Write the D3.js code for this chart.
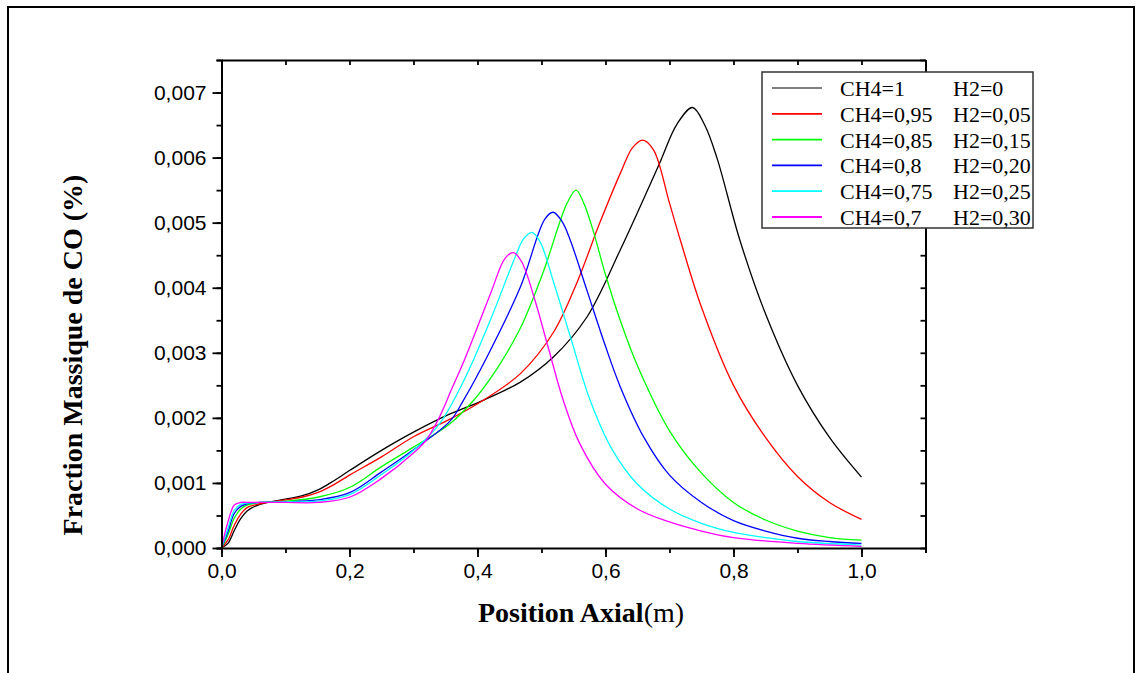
<!DOCTYPE html>
<html>
<head>
<meta charset="utf-8">
<script src="https://cdnjs.cloudflare.com/ajax/libs/d3/7.8.5/d3.min.js"></script>
<style>
  body { margin: 0; background: #fff; }
  svg { display: block; }
</style>
</head>
<body>
<div id="chart"></div>
<script>
// legend text, two columns
const labelsCH4 = ["CH4=1", "CH4=0,95", "CH4=0,85", "CH4=0,8", "CH4=0,75", "CH4=0,7"];
const labelsH2 = ["H2=0", "H2=0,05", "H2=0,15", "H2=0,20", "H2=0,25", "H2=0,30"];
const colors = ["#000000", "#ff0000", "#00ff00", "#0000ff", "#00ffff", "#ff00ff"];

// tick labels
const xTicks = [0, 0.2, 0.4, 0.6, 0.8, 1.0];
const yTicks = [0, 0.001, 0.002, 0.003, 0.004, 0.005, 0.006, 0.007];

// [position axiale (m), fraction massique CO]
const ch4_100 = [[0,0],[0.01,0.00007],[0.02,0.00027],[0.03,0.00045],[0.04,0.00057],[0.06,0.00067],[0.1,0.00075],[0.125,0.0008],[0.15,0.00089],[0.175,0.00103],[0.2,0.00119],[0.25,0.0015],[0.3,0.00178],[0.357,0.00206],[0.409,0.00227],[0.467,0.00255],[0.519,0.00294],[0.571,0.00355],[0.623,0.00458],[0.683,0.00588],[0.712,0.00652],[0.736,0.00677],[0.755,0.0065],[0.774,0.006],[0.81,0.00473],[0.85,0.0036],[0.9,0.0025],[0.95,0.0017],[1.0,0.00109]];
const ch4_095 = [[0,0],[0.01,0.00012],[0.02,0.00035],[0.03,0.00052],[0.04,0.00062],[0.06,0.00068],[0.1,0.00074],[0.125,0.00078],[0.15,0.00085],[0.175,0.00097],[0.2,0.00112],[0.25,0.0014],[0.3,0.00171],[0.357,0.00198],[0.409,0.00227],[0.467,0.00268],[0.519,0.00332],[0.555,0.00407],[0.592,0.00502],[0.625,0.0058],[0.642,0.00615],[0.658,0.00627],[0.675,0.00612],[0.7,0.0053],[0.717,0.00473],[0.75,0.0037],[0.8,0.0025],[0.85,0.0017],[0.9,0.0011],[0.95,0.0007],[1.0,0.00044]];
const ch4_085 = [[0,0],[0.01,0.0002],[0.02,0.00046],[0.03,0.0006],[0.04,0.00066],[0.06,0.0007],[0.1,0.00072],[0.15,0.00078],[0.2,0.00093],[0.25,0.00125],[0.3,0.00155],[0.357,0.00191],[0.394,0.00227],[0.43,0.00275],[0.467,0.00338],[0.503,0.00425],[0.54,0.0053],[0.554,0.0055],[0.566,0.0053],[0.58,0.0049],[0.6,0.0042],[0.623,0.0035],[0.65,0.0028],[0.7,0.0018],[0.75,0.00115],[0.8,0.0007],[0.85,0.00043],[0.9,0.00026],[0.95,0.00016],[1.0,0.00012]];
const ch4_080 = [[0,0],[0.01,0.00025],[0.02,0.00053],[0.03,0.00064],[0.04,0.00068],[0.06,0.0007],[0.1,0.00071],[0.15,0.00074],[0.2,0.00085],[0.25,0.00117],[0.3,0.00151],[0.357,0.00195],[0.378,0.00227],[0.415,0.00294],[0.467,0.00401],[0.505,0.00505],[0.518,0.00516],[0.532,0.00502],[0.545,0.00473],[0.571,0.00396],[0.6,0.0031],[0.623,0.00248],[0.66,0.0017],[0.7,0.00112],[0.75,0.0007],[0.8,0.00042],[0.85,0.00026],[0.9,0.00015],[0.95,0.0001],[1.0,0.00007]];
const ch4_075 = [[0,0],[0.01,0.0003],[0.02,0.00058],[0.03,0.00067],[0.04,0.00069],[0.06,0.0007],[0.1,0.00071],[0.15,0.00072],[0.2,0.00082],[0.25,0.00113],[0.3,0.0015],[0.34,0.0019],[0.38,0.0026],[0.42,0.0035],[0.46,0.0045],[0.472,0.00475],[0.485,0.00485],[0.498,0.0047],[0.52,0.00405],[0.545,0.00325],[0.576,0.00227],[0.61,0.00152],[0.65,0.00098],[0.7,0.0006],[0.75,0.00038],[0.8,0.00024],[0.85,0.00016],[0.9,0.0001],[1.0,0.000045]];
const ch4_070 = [[0,0],[0.01,0.0004],[0.02,0.00066],[0.03,0.0007],[0.045,0.0007],[0.1,0.0007],[0.15,0.0007],[0.2,0.00078],[0.25,0.00107],[0.3,0.00146],[0.32,0.00166],[0.34,0.002],[0.36,0.00245],[0.38,0.0029],[0.42,0.0039],[0.443,0.00445],[0.456,0.00454],[0.469,0.0044],[0.49,0.0038],[0.51,0.0031],[0.534,0.00227],[0.56,0.0016],[0.6,0.00098],[0.65,0.0006],[0.7,0.0004],[0.75,0.00026],[0.8,0.00016],[0.9,0.00007],[1.0,0.000025]];

const series = [ch4_100, ch4_095, ch4_085, ch4_080, ch4_075, ch4_070];

var width = 1138;
var height = 673;
var margin = { left: 221.5, right: 1138 - 925.5, top: 60, bottom: 673 - 548 };

var svg = d3.select("#chart")
    .append("svg")
    .attr("width", width)
    .attr("height", height);

// outer frame of the figure
svg.append("rect")
    .attr("x", 8).attr("y", 7)
    .attr("width", 1126).attr("height", 700)
    .attr("fill", "none")
    .attr("stroke", "#000")
    .attr("stroke-width", 2);

var x = d3.scaleLinear().domain([0, 1.1]).range([margin.left, width - margin.right]);
var y = d3.scaleLinear().domain([0, 0.0075]).range([height - margin.bottom, margin.top]);

var comma = d => d3.format(".1f")(d).replace(".", ",");
var commaY = d => d3.format(".3f")(d).replace(".", ",");

var plot = svg.append("g");

// curves
var line = d3.line()
    .x(d => x(d[0]))
    .y(d => y(d[1]))
    .curve(d3.curveCatmullRom.alpha(0.5));

plot.selectAll(".serie")
    .data(series)
    .enter()
    .append("path")
    .attr("class", "serie")
    .attr("d", line)
    .attr("fill", "none")
    .attr("stroke", (d, i) => colors[i])
    .attr("stroke-width", 1.3);

// axes: major + minor ticks
var fontTicks = "'Liberation Sans', Arial, sans-serif";

function styleAxis(g) {
    g.select(".domain").attr("stroke-width", 2);
    g.selectAll(".tick line").attr("stroke-width", 1.8);
    g.selectAll("text").attr("font-family", fontTicks).attr("font-size", 21).attr("fill", "#000");
}

var xMinor = d3.range(0, 11).map(i => i / 10).concat([1.1]);
var yMinor = d3.range(0, 16).map(i => i * 0.0005);

svg.append("g")
    .attr("transform", `translate(0,${y(0)})`)
    .call(d3.axisBottom(x).tickValues(xMinor).tickSize(5).tickFormat(""))
    .call(styleAxis);

svg.append("g")
    .attr("transform", `translate(0,${y(0)})`)
    .call(d3.axisBottom(x).tickValues(xTicks).tickSize(9).tickPadding(6).tickFormat(comma))
    .call(styleAxis)
    .call(g => g.select(".domain").remove());

svg.append("g")
    .attr("transform", `translate(${x(0)},0)`)
    .call(d3.axisLeft(y).tickValues(yMinor).tickSize(5).tickFormat(""))
    .call(styleAxis);

svg.append("g")
    .attr("transform", `translate(${x(0)},0)`)
    .call(d3.axisLeft(y).tickValues(yTicks).tickSize(9).tickPadding(6).tickFormat(commaY))
    .call(styleAxis)
    .call(g => g.select(".domain").remove());

// top and right, ticks inward, no labels
svg.append("g")
    .attr("transform", `translate(0,${y(0.0075)})`)
    .call(d3.axisTop(x).tickValues(xMinor).tickSize(-5).tickSizeOuter(0).tickFormat(""))
    .call(styleAxis);

svg.append("g")
    .attr("transform", `translate(${x(1.1)},0)`)
    .call(d3.axisRight(y).tickValues(yMinor).tickSize(-5).tickSizeOuter(0).tickFormat(""))
    .call(styleAxis);

// axis titles
var fontTitle = "'Liberation Serif', 'Times New Roman', serif";

var xTitle = svg.append("text")
    .attr("x", 581)
    .attr("y", 622)
    .attr("text-anchor", "middle")
    .attr("font-family", fontTitle)
    .attr("font-size", 28);
xTitle.append("tspan").attr("font-weight", "bold").text("Position Axial");
xTitle.append("tspan").text("(m)");

svg.append("text")
    .attr("transform", "translate(82,355) rotate(-90)")
    .attr("text-anchor", "middle")
    .attr("font-family", fontTitle)
    .attr("font-weight", "bold")
    .attr("font-size", 28)
    .text("Fraction Massique de CO (%)");

// legend
var legend = svg.append("g");
legend.append("rect")
    .attr("x", 762).attr("y", 72)
    .attr("width", 271).attr("height", 156)
    .attr("fill", "#fff")
    .attr("stroke", "#333")
    .attr("stroke-width", 1.5);

var rowY = d3.scaleLinear().domain([0, 5]).range([88, 217]);

var items = legend.selectAll(".item")
    .data(labelsCH4)
    .enter()
    .append("g")
    .attr("class", "item")
    .attr("transform", (d, i) => `translate(0,${rowY(i)})`);

items.append("line")
    .attr("x1", 772).attr("x2", 822)
    .attr("stroke", (d, i) => colors[i])
    .attr("stroke-width", (d, i) => i === 0 ? 1.2 : 1.8);

items.append("text")
    .attr("x", 840).attr("y", 8)
    .attr("font-family", fontTitle)
    .attr("font-size", 22)
    .text(d => d);

items.append("text")
    .attr("x", 953).attr("y", 8)
    .attr("font-family", fontTitle)
    .attr("font-size", 22)
    .text((d, i) => labelsH2[i]);
</script>
</body>
</html>
